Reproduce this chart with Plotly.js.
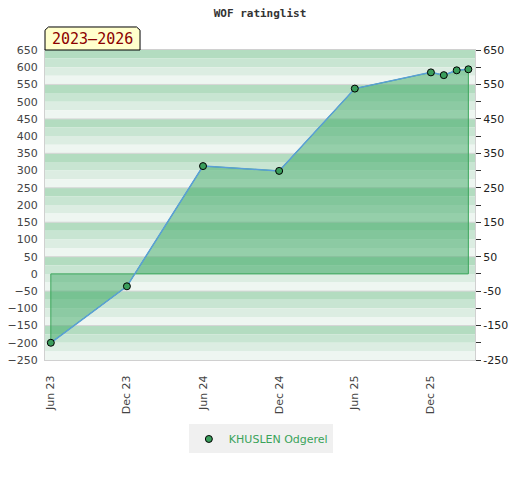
<!DOCTYPE html>
<html>
<head>
<meta charset="utf-8">
<script src="https://cdn.plot.ly/plotly-3.0.1.min.js"></script>
<style>html,body{margin:0;padding:0;background:#fff;}#chart{width:520px;height:480px;}</style>
</head>
<body>
<div id="chart"></div>
<script>
const dates = ['2023-06-01','2023-12-01','2024-06-01','2024-12-01','2025-06-01','2025-12-01','2026-01-01','2026-02-01','2026-03-01'];
const ratings = [-200, -36, 313, 299, 538, 585, 577, 591, 594];
const xTickVals = ['2023-06-01','2023-12-01','2024-06-01','2024-12-01','2025-06-01','2025-12-01'];
const xTickText = ['Jun 23','Dec 23','Jun 24','Dec 24','Jun 25','Dec 25'];
const seriesName = 'KHUSLEN Odgerel';
const chartTitle = 'WOF ratinglist';
const periodLabel = '2023\u20132026';
const yMin = -250, yMax = 650;

const yTicks = [];
for (let v = yMin; v <= yMax; v += 50) yTicks.push(v);
const yRightText = yTicks.map(v => ((v + 50) % 100 === 0 ? String(v) : ''));

// background bands
const bandColors = ['#b3dcc0', '#c8e5d2', '#dcede2', '#eef6f1'];
const shapes = [];
for (let top = yMax, i = 0; top > yMin; top -= 25, i++) {
  shapes.push({type:'rect', xref:'paper', yref:'y', x0:0, x1:1, y0:top-25, y1:top,
    fillcolor: bandColors[i % 4], line:{width:0}, layer:'below'});
}
for (let v = yMax - 100; v > yMin; v -= 100) {
  shapes.push({type:'line', xref:'paper', yref:'y', x0:0, x1:1, y0:v, y1:v,
    line:{color:'#d6d6d6', width:1}, layer:'below'});
}
// label box with clipped corners
shapes.push({type:'path', xref:'paper', yref:'paper',
  path:'M 0 1 L 0 1.064 L 0.008 1.0742 L 0.213 1.0742 L 0.221 1.064 L 0.221 1 Z',
  fillcolor:'#ffffcc', line:{color:'#000', width:1}, layer:'above'});

const last = dates.length - 1;
const polyX = [dates[0]].concat(dates, [dates[last], dates[0]]);
const polyY = [0].concat(ratings, [0, 0]);

const traces = [
  {x: polyX, y: polyY, type:'scatter', mode:'lines', fill:'toself',
   fillcolor:'rgba(60,168,100,0.5)', line:{color:'#3aa55a', width:1},
   hoverinfo:'skip', showlegend:false},
  {x: dates, y: ratings, type:'scatter', mode:'lines',
   line:{color:'#5a9fd8', width:1.5}, showlegend:false},
  {x: dates, y: ratings, type:'scatter', mode:'markers', name: seriesName,
   marker:{size:7, color:'#3a9e5c', line:{color:'#000', width:1}}},
  {x: [dates[0]], y: [0], yaxis:'y2', type:'scatter', mode:'markers',
   marker:{opacity:0}, showlegend:false, hoverinfo:'skip'}
];

const layout = {
  width:520, height:480,
  margin:{l:45, r:45, t:50, b:120},
  paper_bgcolor:'#fff', plot_bgcolor:'#fff',
  title:{text: chartTitle, x:0.5, xanchor:'center', y:0.972, yanchor:'middle',
    font:{family:'DejaVu Sans Mono', size:11, color:'#333', weight:'bold'}},
  xaxis:{type:'date', range:['2023-05-18','2026-03-17'], tickmode:'array',
    tickvals:xTickVals, ticktext:xTickText, tickangle:-90, ticks:'',
    ticklabelstandoff:10, showgrid:false, zeroline:false,
    showline:true, linecolor:'#d0d0d0', linewidth:1, mirror:true,
    tickfont:{family:'DejaVu Sans', size:11, color:'#444'}},
  yaxis:{range:[yMin, yMax], tickmode:'array', tickvals:yTicks, ticks:'',
    showgrid:false, zeroline:false, showline:true, linecolor:'#d0d0d0', linewidth:1, mirror:true,
    ticklabelstandoff:4,
    tickfont:{family:'DejaVu Sans', size:11, color:'#444'}},
  yaxis2:{range:[yMin, yMax], overlaying:'y', side:'right', tickmode:'array',
    tickvals:yTicks, ticktext:yRightText, ticks:'outside', ticklen:5, tickcolor:'#333',
    showgrid:false, zeroline:false, showline:false,
    tickfont:{family:'DejaVu Sans', size:11, color:'#222'}},
  shapes: shapes,
  annotations:[{text: periodLabel, xref:'paper', yref:'paper', x:0.1105, y:1.037,
    xanchor:'center', yanchor:'middle', showarrow:false,
    font:{family:'DejaVu Sans Mono', size:15, color:'#8b0000'}}],
  legend:{orientation:'h', x:0.502, xanchor:'center', y:-0.208, yanchor:'top',
    bgcolor:'#f0f0f0', itemwidth:30, font:{family:'DejaVu Sans', size:11, color:'#3aa35a'}},
  showlegend:true
};

Plotly.newPlot('chart', traces, layout, {displayModeBar:false, staticPlot:true});
</script>
</body>
</html>
